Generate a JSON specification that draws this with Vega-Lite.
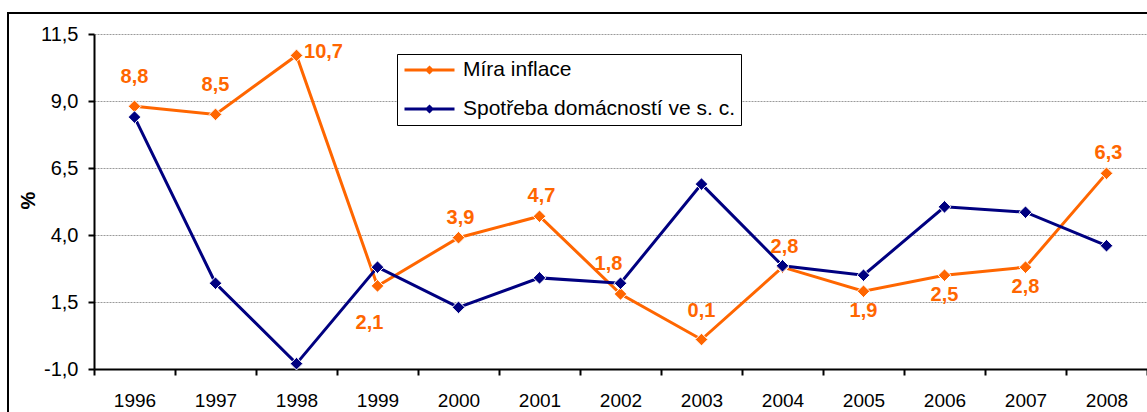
{
  "$schema": "https://vega.github.io/schema/vega-lite/v6.json",
  "autosize": {"type": "none"},
  "padding": {"left": 8, "top": 13, "right": 0, "bottom": 0},
  "width": 1145,
  "height": 400,
  "config": {
    "locale": {"number": {"decimal": ",", "thousands": " ", "grouping": [3], "currency": ["", " Kč"], "minus": "-"}},
    "view": {"stroke": "black", "strokeWidth": 2},
    "font": "Liberation Sans"
  },
  "data": {
    "values": [
      {"year": "1996", "series": "Míra inflace", "value": 8.8},
      {"year": "1997", "series": "Míra inflace", "value": 8.5},
      {"year": "1998", "series": "Míra inflace", "value": 10.7},
      {"year": "1999", "series": "Míra inflace", "value": 2.1},
      {"year": "2000", "series": "Míra inflace", "value": 3.9},
      {"year": "2001", "series": "Míra inflace", "value": 4.7},
      {"year": "2002", "series": "Míra inflace", "value": 1.8},
      {"year": "2003", "series": "Míra inflace", "value": 0.1},
      {"year": "2004", "series": "Míra inflace", "value": 2.8},
      {"year": "2005", "series": "Míra inflace", "value": 1.9},
      {"year": "2006", "series": "Míra inflace", "value": 2.5},
      {"year": "2007", "series": "Míra inflace", "value": 2.8},
      {"year": "2008", "series": "Míra inflace", "value": 6.3},
      {"year": "1996", "series": "Spotřeba domácností ve s. c.", "value": 8.4},
      {"year": "1997", "series": "Spotřeba domácností ve s. c.", "value": 2.2},
      {"year": "1998", "series": "Spotřeba domácností ve s. c.", "value": -0.8},
      {"year": "1999", "series": "Spotřeba domácností ve s. c.", "value": 2.8},
      {"year": "2000", "series": "Spotřeba domácností ve s. c.", "value": 1.3},
      {"year": "2001", "series": "Spotřeba domácností ve s. c.", "value": 2.4},
      {"year": "2002", "series": "Spotřeba domácností ve s. c.", "value": 2.2},
      {"year": "2003", "series": "Spotřeba domácností ve s. c.", "value": 5.9},
      {"year": "2004", "series": "Spotřeba domácností ve s. c.", "value": 2.85},
      {"year": "2005", "series": "Spotřeba domácností ve s. c.", "value": 2.5},
      {"year": "2006", "series": "Spotřeba domácností ve s. c.", "value": 5.05},
      {"year": "2007", "series": "Spotřeba domácností ve s. c.", "value": 4.85},
      {"year": "2008", "series": "Spotřeba domácností ve s. c.", "value": 3.6}
    ]
  },
  "encoding": {
    "x": {
      "field": "year",
      "type": "ordinal",
      "scale": {"type": "band", "range": [86, 1139], "paddingInner": 0, "paddingOuter": 0},
      "axis": {
        "title": null,
        "offset": -44,
        "tickBand": "extent",
        "labelAngle": 0,
        "domainColor": "black",
        "domainWidth": 2,
        "tickColor": "black",
        "tickWidth": 2,
        "tickSize": 6,
        "labelFontSize": 19,
        "labelColor": "black",
        "labelPadding": 16,
        "grid": false
      }
    },
    "y": {
      "field": "value",
      "type": "quantitative",
      "scale": {"domain": [-1, 11.5], "range": [356, 21], "nice": false, "zero": false},
      "axis": {
        "title": "%",
        "offset": -86,
        "values": [-1, 1.5, 4, 6.5, 9, 11.5],
        "format": ".1f",
        "grid": true,
        "gridColor": "#9a9a9a",
        "gridDash": [2, 1],
        "gridWidth": 1,
        "domainColor": "black",
        "domainWidth": 2,
        "tickColor": "black",
        "tickWidth": 2,
        "tickSize": 6,
        "labelFontSize": 20,
        "labelColor": "black",
        "labelPadding": 10,
        "titleFontSize": 20,
        "titleFontWeight": "bold",
        "titleColor": "black",
        "titleAngle": -90,
        "titleAlign": "center",
        "titleBaseline": "middle",
        "titleX": -66,
        "titleY": 187
      }
    }
  },
  "layer": [
    {
      "mark": {
        "type": "line",
        "strokeWidth": 3,
        "point": {"shape": "diamond", "size": 160, "filled": true, "stroke": "white", "strokeWidth": 1}
      },
      "encoding": {
        "color": {
          "field": "series",
          "type": "nominal",
          "scale": {"domain": ["Míra inflace", "Spotřeba domácností ve s. c."], "range": ["#FF6600", "#000080"]},
          "legend": {
            "title": null,
            "orient": "none",
            "legendX": 389,
            "legendY": 41,
            "strokeColor": "black",
            "fillColor": "white",
            "padding": 6,
            "symbolType": "M-1,0H1M0,-0.1L0.1,0L0,0.1L-0.1,0Z",
            "symbolSize": 2500,
            "symbolStrokeWidth": 3,
            "clipHeight": 20,
            "rowPadding": 18,
            "labelFontSize": 21,
            "labelLimit": 400,
            "labelColor": "black",
            "labelOffset": 7,
            "encode": {
              "symbols": {
                "update": {
                  "fill": {"scale": "color", "field": "value"},
                  "stroke": {"scale": "color", "field": "value"}
                }
              }
            }
          }
        }
      }
    },
    {
      "transform": [{"filter": {"field": "series", "equal": "Míra inflace"}}, {"filter": {"field": "year", "oneOf": ["1996", "1997", "2003"]}}],
      "mark": {"type": "text", "fontSize": 20, "fontWeight": "bold", "color": "#FF6600", "dy": -29},
      "encoding": {"text": {"field": "value", "type": "quantitative", "format": ".1f"}}
    },
    {
      "transform": [{"filter": {"field": "series", "equal": "Míra inflace"}}, {"filter": {"field": "year", "oneOf": ["2000", "2001", "2004", "2008"]}}],
      "mark": {"type": "text", "fontSize": 20, "fontWeight": "bold", "color": "#FF6600", "dy": -20, "dx": 2},
      "encoding": {"text": {"field": "value", "type": "quantitative", "format": ".1f"}}
    },
    {
      "transform": [{"filter": {"field": "series", "equal": "Míra inflace"}}, {"filter": {"field": "year", "oneOf": ["2005", "2006", "2007"]}}],
      "mark": {"type": "text", "fontSize": 20, "fontWeight": "bold", "color": "#FF6600", "dy": 20},
      "encoding": {"text": {"field": "value", "type": "quantitative", "format": ".1f"}}
    },
    {
      "transform": [{"filter": {"field": "series", "equal": "Míra inflace"}}, {"filter": {"field": "year", "equal": "1998"}}],
      "mark": {"type": "text", "fontSize": 20, "fontWeight": "bold", "color": "#FF6600", "dx": 27, "dy": -3},
      "encoding": {"text": {"field": "value", "type": "quantitative", "format": ".1f"}}
    },
    {
      "transform": [{"filter": {"field": "series", "equal": "Míra inflace"}}, {"filter": {"field": "year", "equal": "1999"}}],
      "mark": {"type": "text", "fontSize": 20, "fontWeight": "bold", "color": "#FF6600", "dx": -8, "dy": 37},
      "encoding": {"text": {"field": "value", "type": "quantitative", "format": ".1f"}}
    },
    {
      "transform": [{"filter": {"field": "series", "equal": "Míra inflace"}}, {"filter": {"field": "year", "equal": "2002"}}],
      "mark": {"type": "text", "fontSize": 20, "fontWeight": "bold", "color": "#FF6600", "dx": -12, "dy": -30},
      "encoding": {"text": {"field": "value", "type": "quantitative", "format": ".1f"}}
    }
  ]
}
